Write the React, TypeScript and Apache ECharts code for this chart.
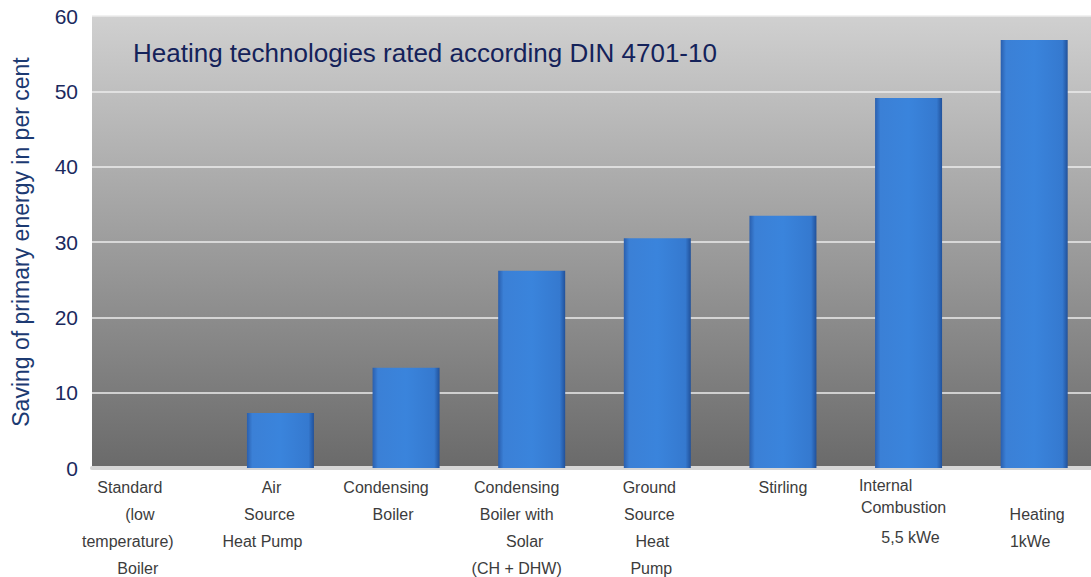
import React, { useEffect, useRef } from "react";
import * as echarts from "echarts";

// Categories, one line of the axis label per entry
const categoryLines: string[][] = [
  ["Standard", "(low", "temperature)", "Boiler"],
  ["Air", "Source", "Heat Pump"],
  ["Condensing", "Boiler"],
  ["Condensing", "Boiler with", "Solar", "(CH + DHW)"],
  ["Ground", "Source", "Heat", "Pump"],
  ["Stirling"],
  ["Internal", "Combustion", "5,5 kWe"],
  ["", "Heating", "1kWe"],
];
const categories = categoryLines.map((l) => l.filter(Boolean).join(" "));

// Saving of primary energy (per cent)
const savings = [0, 7.3, 13.3, 26.2, 30.5, 33.5, 49.1, 56.8];

const yTicks = { min: 0, max: 60, interval: 10 };

// Horizontal nudges of individual label lines (negative = left)
const lineShift: number[][] = [
  [-25, -15, -27, -17],
  [-9, -11, -18],
  [-20, -13],
  [-15, -15, -7, -15],
  [-8, -8, -5, -6],
  [0],
  [-23, -5, 2],
  [0, 3, -4],
];
// Per-line heights for the irregularly spaced labels
const lineHeights: Record<number, number[]> = {
  6: [22, 22, 38],
};

const FONT = "'Liberation Sans', Arial, sans-serif";
const NAVY = "#1b2a5e";

export default function App() {
  const ref = useRef<HTMLDivElement>(null);

  useEffect(() => {
    if (!ref.current) return;
    const chart = echarts.init(ref.current, null, { renderer: "svg" });

    const rich: Record<string, any> = {};
    categoryLines.forEach((lines, i) => {
      lines.forEach((_, j) => {
        const s = lineShift[i][j] || 0;
        const lh = lineHeights[i] ? lineHeights[i][j] : 27;
        rich[`r${i}_${j}`] = {
          fontSize: 16,
          fontFamily: FONT,
          color: "#3c3c3c",
          lineHeight: lh,
          height: lh,
          padding: s < 0 ? [0, -2 * s, 0, 0] : [0, 0, 0, 2 * s],
        };
      });
    });

    chart.setOption({
      animation: false,
      backgroundColor: "#ffffff",
      title: {
        text: "Heating technologies rated according DIN 4701-10",
        left: 128,
        top: 35,
        textStyle: {
          fontFamily: FONT,
          fontSize: 26,
          fontWeight: "normal",
          color: "#14225a",
        },
      },
      grid: {
        left: 92,
        top: 16,
        bottom: 109,
        right: -6,
        outerBoundsMode: "none",
        containLabel: false,
        show: true,
        borderWidth: 0,
        backgroundColor: {
          type: "linear",
          x: 0,
          y: 0,
          x2: 0,
          y2: 1,
          colorStops: [
            { offset: 0, color: "#d0d0d0" },
            { offset: 1, color: "#6a6a6a" },
          ],
        },
      },
      xAxis: {
        type: "category",
        data: categories,
        axisLine: { show: true, lineStyle: { color: "#d6d6d6", width: 4 } },
        axisTick: { show: false },
        axisLabel: {
          interval: 0,
          margin: 6,
          lineHeight: 27,
          formatter: (_: string, index: number) =>
            categoryLines[index]
              .map((line, j) => `{r${index}_${j}|${line}}`)
              .join("\n"),
          rich,
        },
      },
      yAxis: {
        type: "value",
        min: yTicks.min,
        max: yTicks.max,
        interval: yTicks.interval,
        name: "Saving of primary energy in per cent",
        nameLocation: "middle",
        nameGap: 60,
        nameRotate: 90,
        nameTextStyle: {
          fontFamily: FONT,
          fontSize: 23,
          color: "#1c3a72",
        },
        axisLine: { show: false },
        axisTick: { show: false },
        axisLabel: {
          margin: 14,
          fontFamily: FONT,
          fontSize: 21,
          color: NAVY,
        },
        splitLine: { lineStyle: { color: "#ececec", width: 1.5 } },
      },
      series: [
        {
          type: "bar",
          data: savings,
          barWidth: 67,
          itemStyle: {
            borderWidth: 0,
            color: {
              type: "linear",
              x: 0,
              y: 0,
              x2: 1,
              y2: 0,
              colorStops: [
                { offset: 0, color: "#2a5fae" },
                { offset: 0.08, color: "#3b80d6" },
                { offset: 0.5, color: "#3a84dc" },
                { offset: 0.92, color: "#3579cf" },
                { offset: 1, color: "#21519a" },
              ],
            },
          },
        },
      ],
    });

    return () => chart.dispose();
  }, []);

  return (
    <div
      ref={ref}
      style={{ position: "fixed", left: 0, top: 0, width: 1091, height: 577 }}
    />
  );
}
